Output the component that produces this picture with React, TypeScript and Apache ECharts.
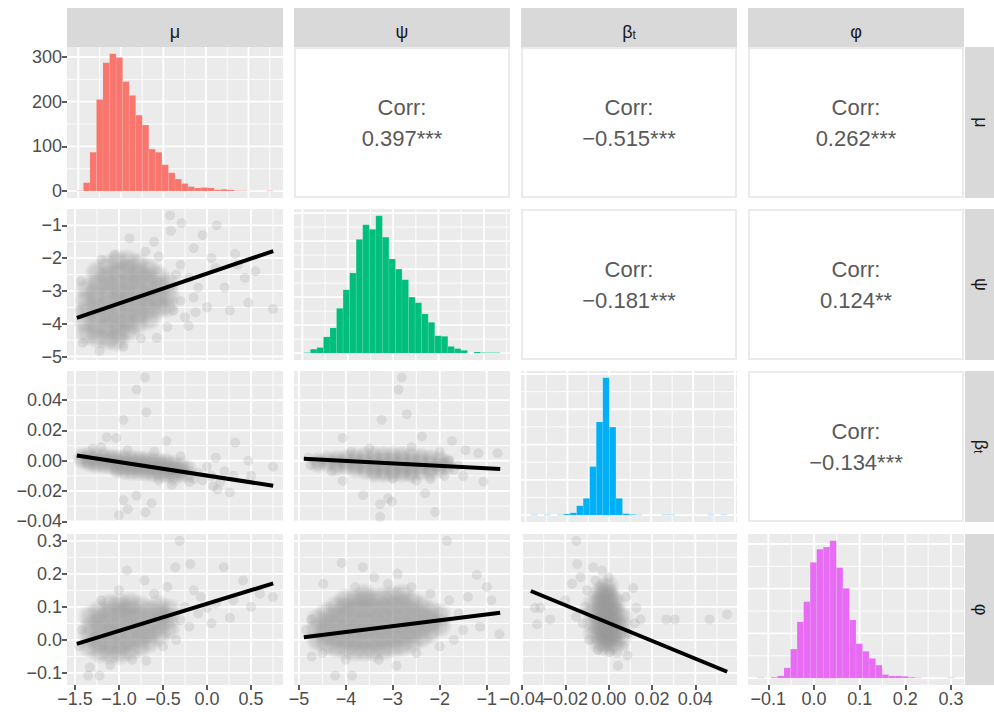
import React, { useEffect, useRef } from 'react';
import * as echarts from 'echarts';

const FONT = '"Liberation Sans", Arial, Helvetica, sans-serif';

// ---------- variables ----------
const varLabels = ['μ', 'ψ', 'β', 'φ'];
const varSubs = ['', '', 't', ''];
const varColors = ['#F8766D', '#00BF7D', '#00B0F6', '#E76BF3'];

// data ranges (min, max) of each variable
const muRange = [-1.479, 0.752];
const psiRange = [-4.897, -0.7127];
const betaRange = [-0.03593, 0.05472];
const phiRange = [-0.1158, 0.2998];

// tick values and labels
const muTicks = [-1.5, -1.0, -0.5, 0.0, 0.5];
const muTickLabels = ['−1.5', '−1.0', '−0.5', '0.0', '0.5'];
const psiTicks = [-5, -4, -3, -2, -1];
const psiTickLabels = ['−5', '−4', '−3', '−2', '−1'];
const betaTicks = [-0.04, -0.02, 0.0, 0.02, 0.04];
const betaTickLabels = ['−0.04', '−0.02', '0.00', '0.02', '0.04'];
const phiTicks = [-0.1, 0.0, 0.1, 0.2, 0.3];
const phiTickLabels = ['−0.1', '0.0', '0.1', '0.2', '0.3'];
const countTicks = [0, 100, 200, 300];
const countTickLabels = ['0', '100', '200', '300'];

// grid-line steps
const varSteps = [0.5, 1, 0.02, 0.1];
const countSteps = [100, 50, 200, 100];

// histogram counts (30 bins each)
const muCounts = [1, 19, 87, 205, 287, 307, 299, 245, 214, 170, 148, 94, 87, 59, 41, 27, 17, 10, 7, 8, 7, 3, 4, 3, 1, 1, 0, 0, 0, 1];
const psiCounts = [1, 7, 10, 29, 45, 80, 113, 143, 203, 229, 221, 245, 207, 168, 150, 131, 100, 90, 70, 55, 31, 30, 12, 8, 5, 0, 2, 1, 1, 1];
const betaCounts = [2, 0, 2, 0, 2, 6, 13, 53, 95, 275, 528, 778, 499, 95, 8, 4, 2, 0, 0, 0, 2, 2, 0, 0, 0, 0, 0, 2, 0, 2];
const phiCounts = [1, 0, 2, 5, 23, 65, 126, 171, 259, 288, 293, 307, 247, 201, 130, 77, 60, 44, 29, 8, 5, 5, 4, 2, 1, 0, 0, 0, 0, 1];

// correlations (upper panels)
const corrRows = [0, 0, 0, 1, 1, 2];
const corrCols = [1, 2, 3, 2, 3, 3];
const corrValues = ['0.397***', '−0.515***', '0.262***', '−0.181***', '0.124**', '−0.134***'];

// ---------- scatter clouds ----------
const muPsiCore = [
  [-1.36, -2.95], [-1.37, -3.3], [-1.35, -3.6], [-1.38, -3.95], [-1.36, -4.3],
  [-1.25, -2.45], [-1.24, -2.8], [-1.26, -3.1], [-1.25, -3.45], [-1.23, -3.75], [-1.26, -4.05], [-1.24, -4.4],
  [-1.13, -2.25], [-1.14, -2.6], [-1.12, -2.9], [-1.13, -3.2], [-1.15, -3.5], [-1.12, -3.8], [-1.14, -4.1], [-1.13, -4.45],
  [-1.02, -2.1], [-1.01, -2.45], [-1.03, -2.75], [-1.0, -3.05], [-1.02, -3.35], [-1.01, -3.65], [-1.03, -3.95], [-1.0, -4.25], [-1.02, -4.5],
  [-0.9, -2.1], [-0.91, -2.4], [-0.89, -2.7], [-0.9, -3.0], [-0.92, -3.3], [-0.89, -3.6], [-0.91, -3.9], [-0.9, -4.2],
  [-0.79, -2.2], [-0.78, -2.5], [-0.8, -2.8], [-0.77, -3.1], [-0.79, -3.4], [-0.78, -3.7], [-0.8, -4.0],
  [-0.67, -2.35], [-0.68, -2.65], [-0.66, -2.95], [-0.68, -3.25], [-0.67, -3.55], [-0.66, -3.85],
  [-0.56, -2.55], [-0.55, -2.9], [-0.57, -3.2], [-0.55, -3.5],
  [-0.45, -2.8], [-0.44, -3.15], [-0.46, -3.45],
];
const muPsiSparse = [
  [-0.42, -0.7], [-0.29, -0.93], [0.11, -1.0], [-0.41, -1.17], [-0.88, -1.4], [0.32, -1.87], [0.43, -2.6], [0.47, -3.36],
  [0.75, -3.55], [0.26, -3.6], [0.0, -3.5], [-0.21, -4.07], [-0.13, -3.65], [-0.57, -4.43], [-1.22, -4.83], [-1.41, -4.58],
  [-0.7, -1.8], [-0.55, -1.95], [-0.3, -2.2], [-0.2, -2.6], [-0.1, -2.9], [0.1, -2.3], [0.2, -2.9], [-0.3, -3.3],
  [-0.25, -3.8], [-0.35, -2.5], [0.05, -2.0], [-0.15, -1.7], [-1.05, -1.9], [-1.2, -2.05], [-1.45, -3.6], [-1.43, -2.7],
  [-0.75, -4.45], [-0.95, -4.7], [0.35, -2.2], [0.55, -2.4], [-0.05, -1.3], [-0.6, -1.5], [-0.45, -4.1], [-0.15, -3.2], [-0.38, -3.6],
];
const muPsiFit = [[-1.479, -3.821], [0.752, -1.785]];

const muBetaCore = [
  [-1.42, 0.003], [-1.42, 0.0],
  [-1.34, 0.0035], [-1.34, 0.0005], [-1.34, -0.002],
  [-1.26, 0.003], [-1.26, 0.0], [-1.26, -0.003],
  [-1.18, 0.003], [-1.18, 0.0], [-1.18, -0.003],
  [-1.1, 0.0025], [-1.1, -0.0005], [-1.1, -0.0035],
  [-1.02, 0.002], [-1.02, -0.001], [-1.02, -0.004], [-1.02, -0.006],
  [-0.94, 0.002], [-0.94, -0.001], [-0.94, -0.004], [-0.94, -0.007],
  [-0.86, 0.0015], [-0.86, -0.0015], [-0.86, -0.0045], [-0.86, -0.0075],
  [-0.78, 0.0015], [-0.78, -0.0015], [-0.78, -0.0045], [-0.78, -0.0075],
  [-0.7, 0.001], [-0.7, -0.002], [-0.7, -0.005], [-0.7, -0.008],
  [-0.62, 0.0005], [-0.62, -0.0025], [-0.62, -0.0055], [-0.62, -0.0085],
  [-0.54, 0.0], [-0.54, -0.003], [-0.54, -0.006], [-0.54, -0.009],
  [-0.46, -0.0005], [-0.46, -0.0035], [-0.46, -0.0065], [-0.46, -0.0095],
  [-0.38, -0.002], [-0.38, -0.005], [-0.38, -0.008], [-0.38, -0.011],
  [-0.3, -0.003], [-0.3, -0.006], [-0.3, -0.009],
  [-0.22, -0.005], [-0.22, -0.009],
];
const muBetaSparse = [
  [-0.705, 0.055], [-0.8, 0.047], [-0.95, 0.027], [-0.69, 0.032], [-1.14, 0.0155], [-1.03, 0.015], [-0.46, 0.013],
  [0.32, 0.012], [0.47, 0.0], [0.75, -0.004], [0.26, -0.021], [0.07, -0.017], [-0.95, -0.026], [-0.8, -0.023],
  [-0.9, -0.032], [-1.0, -0.036], [-0.7, -0.034], [-0.63, -0.028],
  [-0.1, -0.008], [-0.05, -0.013], [0.05, -0.01], [0.15, -0.014], [0.2, -0.007], [-0.15, -0.012], [0.0, -0.004],
  [-0.2, -0.014], [-1.3, 0.008], [-1.2, 0.009], [-0.9, 0.007], [-0.6, 0.006], [-0.3, 0.003], [0.1, 0.002],
  [0.3, -0.01], [0.5, -0.01], [0.12, -0.019], [-0.4, -0.016], [-0.55, -0.013],
];
const muBetaFit = [[-1.479, 0.00341], [0.752, -0.01654]];

const muPhiCore = [
  [-1.32, -0.02], [-1.33, 0.01], [-1.31, 0.04], [-1.32, 0.07],
  [-1.21, -0.035], [-1.22, -0.005], [-1.2, 0.025], [-1.21, 0.055], [-1.22, 0.085],
  [-1.1, -0.04], [-1.11, -0.01], [-1.09, 0.02], [-1.1, 0.05], [-1.11, 0.08], [-1.1, 0.105],
  [-0.99, -0.04], [-0.98, -0.01], [-1.0, 0.02], [-0.99, 0.05], [-0.98, 0.08], [-0.99, 0.105],
  [-0.88, -0.03], [-0.89, 0.0], [-0.87, 0.03], [-0.88, 0.06], [-0.89, 0.09], [-0.88, 0.11],
  [-0.77, -0.02], [-0.76, 0.01], [-0.78, 0.04], [-0.77, 0.07], [-0.76, 0.1],
  [-0.66, -0.005], [-0.67, 0.025], [-0.65, 0.055], [-0.66, 0.085],
  [-0.55, 0.015], [-0.56, 0.045], [-0.54, 0.075], [-0.55, 0.1],
  [-0.44, 0.035], [-0.45, 0.065], [-0.43, 0.09],
];
const muPhiSparse = [
  [-0.31, 0.3], [-0.19, 0.23], [-0.36, 0.22], [-0.91, 0.21], [-0.71, 0.18], [0.19, 0.22], [0.41, 0.18], [0.75, 0.13],
  [0.26, 0.067], [0.0, 0.097], [-0.07, 0.13], [-0.69, -0.063], [-1.1, -0.076], [-1.33, -0.083], [-1.22, -0.108], [-1.35, -0.108],
  [-0.3, 0.06], [-0.25, 0.1], [-0.2, 0.04], [-0.1, 0.08], [0.1, 0.11], [0.3, 0.12], [0.5, 0.1], [-0.15, 0.15],
  [-0.45, 0.16], [-0.6, 0.14], [-1.0, 0.15], [-1.2, 0.12], [-1.42, 0.03], [-1.45, -0.02], [-0.85, -0.06], [-0.5, -0.02],
  [-0.35, 0.0], [0.05, 0.05], [0.6, 0.14],
];
const muPhiFit = [[-1.479, -0.012], [0.752, 0.171]];

const psiBetaCore = [
  [-4.6, 0.0], [-4.6, -0.0025],
  [-4.4, 0.001], [-4.4, -0.002],
  [-4.2, 0.0015], [-4.2, -0.0015], [-4.2, -0.0045],
  [-4.0, 0.002], [-4.0, -0.001], [-4.0, -0.004],
  [-3.8, 0.003], [-3.8, 0.0], [-3.8, -0.003], [-3.8, -0.006],
  [-3.6, 0.0035], [-3.6, 0.0], [-3.6, -0.0035], [-3.6, -0.007],
  [-3.4, 0.004], [-3.4, 0.0005], [-3.4, -0.003], [-3.4, -0.0065], [-3.4, -0.009],
  [-3.2, 0.004], [-3.2, 0.0005], [-3.2, -0.003], [-3.2, -0.0065], [-3.2, -0.009],
  [-3.0, 0.004], [-3.0, 0.0005], [-3.0, -0.003], [-3.0, -0.0065], [-3.0, -0.009],
  [-2.8, 0.004], [-2.8, 0.0005], [-2.8, -0.003], [-2.8, -0.0065], [-2.8, -0.009],
  [-2.6, 0.0035], [-2.6, 0.0], [-2.6, -0.0035], [-2.6, -0.007], [-2.6, -0.0095],
  [-2.4, 0.003], [-2.4, -0.0005], [-2.4, -0.004], [-2.4, -0.0075],
  [-2.2, 0.002], [-2.2, -0.0015], [-2.2, -0.005], [-2.2, -0.008],
  [-2.0, 0.001], [-2.0, -0.0025], [-2.0, -0.006],
  [-1.85, -0.001], [-1.85, -0.004],
];
const psiBetaSparse = [
  [-2.81, 0.055], [-2.88, 0.047], [-2.7, 0.0307], [-3.24, 0.027], [-4.07, 0.015], [-2.38, 0.016], [-1.74, 0.013],
  [-1.45, 0.007], [-1.18, 0.005], [-0.77, 0.005], [-1.07, -0.0138], [-3.63, -0.0227], [-3.27, -0.0287], [-3.1, -0.025],
  [-3.02, -0.027], [-3.27, -0.037], [-2.1, -0.0338], [-2.31, -0.0215], [-4.07, -0.0133],
  [-4.8, 0.002], [-4.75, -0.003], [-1.8, 0.0], [-1.7, -0.006], [-1.6, -0.003], [-1.9, -0.01], [-2.0, 0.006],
  [-3.5, 0.008], [-2.6, 0.009], [-3.0, -0.012], [-2.5, -0.013], [-4.3, -0.007], [-3.9, 0.006], [-1.5, -0.01], [-2.2, -0.012],
];
const psiBetaFit = [[-4.897, 0.0013], [-0.7127, -0.0055]];

const psiPhiCore = [
  [-4.6, 0.0], [-4.6, 0.03], [-4.6, 0.06],
  [-4.4, -0.01], [-4.4, 0.02], [-4.4, 0.05], [-4.4, 0.08],
  [-4.2, -0.02], [-4.2, 0.01], [-4.2, 0.04], [-4.2, 0.07], [-4.2, 0.1],
  [-4.0, -0.025], [-4.0, 0.005], [-4.0, 0.035], [-4.0, 0.065], [-4.0, 0.095], [-4.0, 0.12],
  [-3.8, -0.03], [-3.8, 0.0], [-3.8, 0.03], [-3.8, 0.06], [-3.8, 0.09], [-3.8, 0.12],
  [-3.6, -0.03], [-3.6, 0.0], [-3.6, 0.03], [-3.6, 0.06], [-3.6, 0.09], [-3.6, 0.12], [-3.6, 0.135],
  [-3.4, -0.03], [-3.4, 0.0], [-3.4, 0.03], [-3.4, 0.06], [-3.4, 0.09], [-3.4, 0.12],
  [-3.2, -0.025], [-3.2, 0.005], [-3.2, 0.035], [-3.2, 0.065], [-3.2, 0.095], [-3.2, 0.125],
  [-3.0, -0.02], [-3.0, 0.01], [-3.0, 0.04], [-3.0, 0.07], [-3.0, 0.1], [-3.0, 0.13],
  [-2.8, -0.015], [-2.8, 0.015], [-2.8, 0.045], [-2.8, 0.075], [-2.8, 0.105], [-2.8, 0.135],
  [-2.6, -0.005], [-2.6, 0.025], [-2.6, 0.055], [-2.6, 0.085], [-2.6, 0.115],
  [-2.4, 0.01], [-2.4, 0.04], [-2.4, 0.07], [-2.4, 0.1],
  [-2.2, 0.025], [-2.2, 0.055], [-2.2, 0.085],
  [-2.0, 0.045], [-2.0, 0.075],
];
const psiPhiSparse = [
  [-1.85, 0.3], [-4.09, 0.233], [-4.48, 0.17], [-3.64, 0.22], [-1.21, 0.197], [-1.0, 0.16], [-0.9, 0.12], [-1.14, 0.04],
  [-0.73, 0.017], [-4.73, 0.062], [-4.73, -0.05], [-4.23, -0.108], [-3.87, -0.108], [-2.92, -0.078],
  [-1.8, 0.12], [-1.6, 0.08], [-1.5, 0.03], [-1.7, 0.0], [-2.0, -0.02], [-2.5, -0.04], [-3.3, -0.06], [-4.0, -0.06],
  [-4.5, -0.04], [-4.85, 0.03], [-3.1, 0.17], [-2.6, 0.16], [-2.2, 0.14], [-3.8, 0.16], [-1.4, 0.13], [-2.9, 0.2], [-3.4, 0.19],
];
const psiPhiFit = [[-4.897, 0.0078], [-0.7127, 0.0823]];

const betaPhiCore = [
  [-0.0065, 0.02], [-0.0065, 0.05], [-0.0065, 0.08], [-0.0065, 0.11],
  [-0.0035, -0.01], [-0.0035, 0.02], [-0.0035, 0.05], [-0.0035, 0.08], [-0.0035, 0.11], [-0.0035, 0.14],
  [-0.0005, -0.015], [-0.0005, 0.015], [-0.0005, 0.045], [-0.0005, 0.075], [-0.0005, 0.105], [-0.0005, 0.135], [-0.0005, 0.16],
  [0.0025, -0.01], [0.0025, 0.02], [0.0025, 0.05], [0.0025, 0.08], [0.0025, 0.11],
  [0.0055, 0.01], [0.0055, 0.04], [0.0055, 0.07],
  [-0.002, 0.0], [-0.002, 0.03], [-0.002, 0.06], [-0.002, 0.09], [-0.002, 0.12], [-0.002, 0.15],
  [0.001, 0.0], [0.001, 0.03], [0.001, 0.06], [0.001, 0.09], [0.001, 0.12],
];
const betaPhiSparse = [
  [-0.0149, 0.3], [-0.0145, 0.23], [-0.0071, 0.22], [-0.0169, 0.17], [-0.034, 0.097], [-0.0315, 0.097], [-0.027, 0.062],
  [-0.033, 0.047], [0.0128, 0.097], [0.0113, 0.157], [0.0148, 0.062], [0.0266, 0.062], [0.0305, 0.062], [0.0466, 0.062],
  [0.0547, 0.077], [0.0087, -0.047], [0.0043, -0.078], [0.0005, -0.037],
  [-0.011, 0.1], [-0.012, 0.05], [-0.01, 0.15], [-0.009, 0.0], [0.008, 0.13], [0.009, 0.02], [-0.006, 0.18], [0.0, 0.19],
  [-0.015, 0.07], [-0.02, 0.12], [0.007, -0.02], [-0.005, -0.03], [0.012, 0.05], [-0.003, 0.21], [-0.013, 0.19], [0.004, -0.04],
];
const betaPhiFit = [[-0.03593, 0.148], [0.05472, -0.0964]];

// ---------- layout ----------
const W = 994;
const H = 712;
const COL_X = [67, 294, 521, 748];
const ROW_Y = [47, 209, 371, 534];
const PW = 216;
const PH = 151;
const MAJ = 1.8;
const MIN = 0.9;

const ranges = [muRange, psiRange, betaRange, phiRange];
const ticks = [muTicks, psiTicks, betaTicks, phiTicks];
const tickLabels = [muTickLabels, psiTickLabels, betaTickLabels, phiTickLabels];
const counts = [muCounts, psiCounts, betaCounts, phiCounts];

const scatterSets: Record<string, any> = {
  '10': { core: muPsiCore, sparse: muPsiSparse, fit: muPsiFit, size: 26 },
  '20': { core: muBetaCore, sparse: muBetaSparse, fit: muBetaFit, size: 19 },
  '30': { core: muPhiCore, sparse: muPhiSparse, fit: muPhiFit, size: 26 },
  '21': { core: psiBetaCore, sparse: psiBetaSparse, fit: psiBetaFit, size: 19 },
  '31': { core: psiPhiCore, sparse: psiPhiSparse, fit: psiPhiFit, size: 26 },
  '32': { core: betaPhiCore, sparse: betaPhiSparse, fit: betaPhiFit, size: 26 },
};

const coreFill = {
  type: 'radial',
  x: 0.5,
  y: 0.5,
  r: 0.5,
  colorStops: [
    { offset: 0, color: 'rgba(150,150,150,0.5)' },
    { offset: 0.55, color: 'rgba(150,150,150,0.4)' },
    { offset: 1, color: 'rgba(150,150,150,0)' },
  ],
  global: false,
};

function scatterRange(r: number[]) {
  const w = r[1] - r[0];
  return [r[0] - 0.05 * w, r[1] + 0.05 * w];
}
function binInfo(r: number[], n: number) {
  const bw = (r[1] - r[0]) / (n - 1);
  return { lo: r[0] - bw / 2, hi: r[1] + bw / 2, bw };
}
function histRange(r: number[], n: number) {
  const b = binInfo(r, n);
  const w = b.hi - b.lo;
  return [b.lo - 0.05 * w, b.hi + 0.05 * w];
}
function breaks(step: number, r: number[]) {
  const out: number[] = [];
  const k0 = Math.ceil(r[0] / step - 1e-9);
  const k1 = Math.floor(r[1] / step + 1e-9);
  for (let k = k0; k <= k1; k++) out.push(Math.round(k * step * 1e9) / 1e9);
  return out;
}
function isMultiple(v: number, step: number) {
  const q = v / step;
  return Math.abs(q - Math.round(q)) < 1e-6;
}

// an axis; `vals` = tick values to label (null = no labels)
function makeAxis(gi: number, range: number[], vals: number[] | null, labels: string[] | null, pos: string, tickVals?: number[] | null) {
  const show = !!vals;
  const tv = tickVals === undefined ? vals : tickVals;
  return {
    type: 'value',
    gridIndex: gi,
    position: pos,
    offset: 0,
    min: range[0],
    max: range[1],
    axisLine: { show: false, onZero: false },
    splitLine: { show: false },
    axisTick: tv && tv.length
      ? { show: true, customValues: tv, length: 5, lineStyle: { color: '#333333', width: 1.6 } }
      : { show: false },
    axisLabel: show
      ? {
          show: true,
          customValues: vals,
          showMinLabel: true,
          showMaxLabel: true,
          hideOverlap: false,
          color: '#4D4D4D',
          fontSize: 18,
          fontFamily: FONT,
          margin: 5,
          formatter: (v: number) => {
            const i = (vals as number[]).findIndex((t) => Math.abs(t - v) < 1e-9);
            return i >= 0 ? (labels as string[])[i] : '';
          },
        }
      : { show: false },
  };
}

function gridSeries(gi: number, xr: number[], yr: number[], xStep: number, yStep: number) {
  const data: number[][] = [];
  const xm = (xr[0] + xr[1]) / 2;
  const ym = (yr[0] + yr[1]) / 2;
  breaks(xStep / 2, xr).forEach((v) => data.push([v, ym, isMultiple(v, xStep) ? MAJ : MIN, 0]));
  breaks(yStep / 2, yr).forEach((v) => data.push([xm, v, isMultiple(v, yStep) ? MAJ : MIN, 1]));
  return {
    type: 'custom',
    xAxisIndex: gi,
    yAxisIndex: gi,
    silent: true,
    z: 1,
    encode: { x: 0, y: 1 },
    data,
    renderItem: (params: any, api: any) => {
      const p = api.coord([api.value(0), api.value(1)]);
      const cs = params.coordSys;
      const w = api.value(2);
      if (api.value(3) === 0) {
        return { type: 'line', shape: { x1: p[0], y1: cs.y, x2: p[0], y2: cs.y + cs.height }, style: { stroke: '#FFFFFF', lineWidth: w } };
      }
      return { type: 'line', shape: { x1: cs.x, y1: p[1], x2: cs.x + cs.width, y2: p[1] }, style: { stroke: '#FFFFFF', lineWidth: w } };
    },
  };
}

function histSeries(gi: number, v: number) {
  const b = binInfo(ranges[v], counts[v].length);
  const data = counts[v].map((c, i) => [b.lo + i * b.bw, b.lo + (i + 1) * b.bw, c]);
  const color = varColors[v];
  return {
    type: 'custom',
    xAxisIndex: gi,
    yAxisIndex: gi,
    silent: true,
    z: 2,
    encode: { x: [0, 1], y: 2 },
    data,
    renderItem: (params: any, api: any) => {
      const p0 = api.coord([api.value(0), api.value(2)]);
      const p1 = api.coord([api.value(1), 0]);
      return {
        type: 'rect',
        shape: { x: p0[0], y: p0[1], width: p1[0] - p0[0], height: p1[1] - p0[1] },
        style: { fill: color, stroke: 'rgba(255,255,255,0.18)', lineWidth: 0.5 },
      };
    },
  };
}

function stripText(v: number) {
  return varSubs[v] ? `{a|${varLabels[v]}}{b|${varSubs[v]}}` : `{a|${varLabels[v]}}`;
}
const stripRich = {
  a: { fontSize: 18, fontFamily: FONT, fill: '#1A1A1A', color: '#1A1A1A', lineHeight: 26, verticalAlign: 'bottom' },
  b: { fontSize: 12, fontFamily: FONT, fill: '#1A1A1A', color: '#1A1A1A', lineHeight: 11, verticalAlign: 'bottom' },
};

function buildOption() {
  const grids: any[] = [];
  const xAxes: any[] = [];
  const yAxes: any[] = [];
  const extraX: any[] = [];
  const series: any[] = [];
  let gi = 0;
  for (let r = 0; r < 4; r++) {
    for (let c = 0; c <= r; c++) {
      const diag = r === c;
      grids.push({ left: COL_X[c], top: ROW_Y[r], width: PW, height: PH, show: true, backgroundColor: '#EBEBEB', borderWidth: 0 });
      const xr = diag ? histRange(ranges[c], counts[c].length) : scatterRange(ranges[c]);
      const maxC = diag ? Math.max(...counts[c]) : 0;
      const yr = diag ? [-0.05 * maxC, 1.05 * maxC] : scatterRange(ranges[r]);
      if (r === 3) {
        // bottom row: labels split over two axes so that none is dropped for overlap
        const t = ticks[c];
        const l = tickLabels[c];
        const evenV = t.filter((_, i) => i % 2 === 0);
        const evenL = l.filter((_, i) => i % 2 === 0);
        const oddV = t.filter((_, i) => i % 2 === 1);
        const oddL = l.filter((_, i) => i % 2 === 1);
        xAxes.push(makeAxis(gi, xr, evenV, evenL, 'bottom', t));
        extraX.push(makeAxis(gi, xr, oddV, oddL, 'bottom', null));
      } else {
        xAxes.push(makeAxis(gi, xr, null, null, 'bottom'));
      }
      const yVals = c === 0 ? (diag ? countTicks : ticks[r]) : null;
      const yLabs = c === 0 ? (diag ? countTickLabels : tickLabels[r]) : null;
      yAxes.push(makeAxis(gi, yr, yVals, yLabs, 'left'));
      series.push(gridSeries(gi, xr, yr, varSteps[c], diag ? countSteps[c] : varSteps[r]));
      if (diag) {
        series.push(histSeries(gi, c));
      } else {
        const s = scatterSets[`${r}${c}`];
        series.push({
          type: 'scatter', xAxisIndex: gi, yAxisIndex: gi, silent: true, z: 3,
          data: s.sparse, symbolSize: 10, itemStyle: { color: '#999999', opacity: 0.22 },
        });
        series.push({
          type: 'scatter', xAxisIndex: gi, yAxisIndex: gi, silent: true, z: 3,
          data: s.core, symbolSize: s.size, itemStyle: { color: coreFill },
        });
        series.push({
          type: 'line', xAxisIndex: gi, yAxisIndex: gi, silent: true, z: 5,
          data: s.fit, symbol: 'none', lineStyle: { color: '#000000', width: 4 },
        });
      }
      gi++;
    }
  }

  const graphic: any[] = [];
  // top strips
  for (let c = 0; c < 4; c++) {
    graphic.push({ type: 'rect', shape: { x: COL_X[c], y: 8, width: PW, height: 39 }, style: { fill: '#D9D9D9' }, silent: true });
    graphic.push({
      type: 'text', x: COL_X[c] + PW / 2, y: 27.5, silent: true,
      style: { text: stripText(c), rich: stripRich, align: 'center', verticalAlign: 'middle', textAlign: 'center', textVerticalAlign: 'middle' },
    });
  }
  // right strips
  for (let r = 0; r < 4; r++) {
    graphic.push({ type: 'rect', shape: { x: COL_X[3] + PW + 1, y: ROW_Y[r], width: 39, height: PH }, style: { fill: '#D9D9D9' }, silent: true });
    graphic.push({
      type: 'text', x: COL_X[3] + PW + 20.5, y: ROW_Y[r] + PH / 2, rotation: -Math.PI / 2, silent: true,
      style: { text: stripText(r), rich: stripRich, align: 'center', verticalAlign: 'middle', textAlign: 'center', textVerticalAlign: 'middle' },
    });
  }
  // correlation panels
  corrValues.forEach((val, i) => {
    const r = corrRows[i];
    const c = corrCols[i];
    graphic.push({
      type: 'rect', shape: { x: COL_X[c] + 1, y: ROW_Y[r] + 1, width: PW - 2, height: PH - 2 },
      style: { fill: '#FFFFFF', stroke: '#EBEBEB', lineWidth: 2 }, silent: true,
    });
    graphic.push({
      type: 'text', x: COL_X[c] + PW / 2, y: ROW_Y[r] + PH / 2, silent: true,
      style: {
        text: `Corr:\n${val}`, fill: '#595959', fontSize: 22, fontFamily: FONT, lineHeight: 31,
        align: 'center', verticalAlign: 'middle', textAlign: 'center', textVerticalAlign: 'middle',
      },
    });
  });

  return {
    animation: false,
    backgroundColor: '#FFFFFF',
    grid: grids,
    xAxis: xAxes.concat(extraX),
    yAxis: yAxes,
    series,
    graphic,
  };
}

export default function App() {
  const ref = useRef<HTMLDivElement>(null);
  useEffect(() => {
    const chart = echarts.init(ref.current as HTMLDivElement, null, { renderer: 'svg', width: W, height: H });
    chart.setOption(buildOption() as any);
    return () => chart.dispose();
  }, []);
  return <div ref={ref} style={{ position: 'fixed', left: 0, top: 0, width: W, height: H, background: '#FFFFFF' }} />;
}
